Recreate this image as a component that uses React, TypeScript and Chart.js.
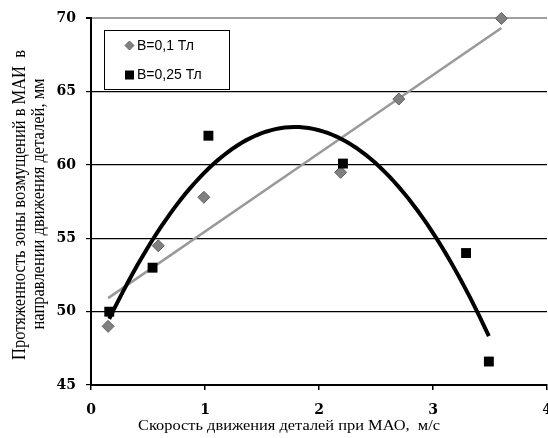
import React, { useEffect, useRef } from 'react';
import { Chart, registerables } from 'chart.js';

Chart.register(...registerables);

// ---- data ----
const xB01 = [0.15, 0.59, 0.99, 2.19, 2.7, 3.6];
const yB01 = [49, 54.5, 57.8, 59.5, 64.5, 70];
const xB025 = [0.16, 0.54, 1.03, 2.21, 3.29, 3.49];
const yB025 = [50, 53, 62, 60.1, 54, 46.6];
const seriesLabels = ['B=0,1 Тл', 'B=0,25 Тл'];
const xTitle = 'Скорость движения деталей при МАО,  м/с';
const yTitleLines = ['Протяженность зоны возмущений в МАИ  в', 'направлении движения деталей, мм'];
const xMin = 0, xMax = 4, xStep = 1;
const yMin = 45, yMax = 70, yStep = 5;

// least squares trendlines (Excel-style), computed from the data
function linearFit(xs: number[], ys: number[]) {
  const n = xs.length;
  const mx = xs.reduce((a, b) => a + b, 0) / n;
  const my = ys.reduce((a, b) => a + b, 0) / n;
  let sxy = 0, sxx = 0;
  for (let i = 0; i < n; i++) { sxy += (xs[i] - mx) * (ys[i] - my); sxx += (xs[i] - mx) ** 2; }
  const b = sxy / sxx;
  const a = my - b * mx;
  return (x: number) => a + b * x;
}
function quadFit(xs: number[], ys: number[]) {
  const s = [0, 0, 0, 0, 0];
  const t = [0, 0, 0];
  for (let i = 0; i < xs.length; i++) {
    for (let k = 0; k < 5; k++) s[k] += xs[i] ** k;
    for (let k = 0; k < 3; k++) t[k] += ys[i] * xs[i] ** k;
  }
  const M = [
    [s[0], s[1], s[2], t[0]],
    [s[1], s[2], s[3], t[1]],
    [s[2], s[3], s[4], t[2]],
  ];
  for (let c = 0; c < 3; c++) {
    for (let r = c + 1; r < 3; r++) {
      const f = M[r][c] / M[c][c];
      for (let k = c; k < 4; k++) M[r][k] -= f * M[c][k];
    }
  }
  const co = [0, 0, 0];
  for (let r = 2; r >= 0; r--) {
    let v = M[r][3];
    for (let k = r + 1; k < 3; k++) v -= M[r][k] * co[k];
    co[r] = v / M[r][r];
  }
  return (x: number) => co[0] + co[1] * x + co[2] * x * x;
}
function sample(f: (x: number) => number, x0: number, x1: number, n: number) {
  const pts: { x: number; y: number }[] = [];
  for (let i = 0; i <= n; i++) {
    const x = x0 + ((x1 - x0) * i) / n;
    pts.push({ x, y: f(x) });
  }
  return pts;
}

function drawFitText(ctx: CanvasRenderingContext2D, text: string, cx: number, cy: number, font: string, targetW: number, sy: number, rot: number) {
  ctx.save();
  ctx.font = font;
  const w = ctx.measureText(text).width;
  ctx.translate(cx, cy);
  ctx.rotate(rot);
  ctx.scale(targetW / w, sy);
  ctx.textAlign = 'center';
  ctx.textBaseline = 'middle';
  ctx.fillStyle = '#000';
  ctx.fillText(text, 0, 0);
  ctx.restore();
}

const overlayPlugin = {
  id: 'overlay',
  afterDraw(chart: any) {
    const ctx: CanvasRenderingContext2D = chart.ctx;
    // legend box
    ctx.save();
    ctx.fillStyle = '#fff';
    ctx.strokeStyle = '#000';
    ctx.lineWidth = 1;
    ctx.fillRect(104.5, 30.5, 125, 59);
    ctx.strokeRect(104.5, 30.5, 125, 59);
    // diamond
    ctx.beginPath();
    const dx = 129.5, dy = 45.5, r = 4.5;
    ctx.moveTo(dx - r, dy); ctx.lineTo(dx, dy - r); ctx.lineTo(dx + r, dy); ctx.lineTo(dx, dy + r); ctx.closePath();
    ctx.fillStyle = '#808080'; ctx.fill();
    ctx.strokeStyle = '#666'; ctx.stroke();
    // square
    ctx.fillStyle = '#000';
    ctx.fillRect(125, 70.5, 9, 9);
    ctx.font = '14px "Liberation Sans", Arial, sans-serif';
    ctx.textBaseline = 'middle';
    ctx.textAlign = 'left';
    ctx.fillText(seriesLabels[0], 137, 46.5);
    ctx.fillText(seriesLabels[1], 137, 75.5);
    ctx.restore();

    // axis titles
    drawFitText(ctx, xTitle, 289, 426, '15px "Liberation Serif", serif', 302, 1, 0);
    drawFitText(ctx, yTitleLines[0], 20, 205, '15px "Liberation Serif", serif', 310, 1.2, -Math.PI / 2);
    drawFitText(ctx, yTitleLines[1], 39, 204, '15px "Liberation Serif", serif', 251, 1.2, -Math.PI / 2);
  },
};

export default function App() {
  const ref = useRef<HTMLCanvasElement>(null);
  useEffect(() => {
    document.body.style.margin = '0';
    const lin = linearFit(xB01, yB01);
    const quad = quadFit(xB025, yB025);
    const linPts = sample(lin, Math.min(...xB01), Math.max(...xB01), 2);
    const quadPts = sample(quad, Math.min(...xB025), Math.max(...xB025), 80);
    const chart = new Chart(ref.current!, {
      type: 'scatter',
      data: {
        datasets: [
          {
            label: seriesLabels[0],
            data: xB01.map((x, i) => ({ x, y: yB01[i] })),
            pointStyle: 'rectRot',
            pointRadius: 6,
            backgroundColor: '#808080',
            borderColor: '#606060',
            borderWidth: 1,
            clip: false,
            order: 1,
          },
          {
            label: seriesLabels[1],
            data: xB025.map((x, i) => ({ x, y: yB025[i] })),
            pointStyle: 'rect',
            pointRadius: 7,
            backgroundColor: '#000',
            borderColor: '#000',
            borderWidth: 0,
            clip: false,
            order: 0,
          },
          {
            label: 'linear',
            data: linPts,
            showLine: true,
            borderColor: '#999999',
            borderWidth: 2.5,
            pointRadius: 0,
            order: 3,
          },
          {
            label: 'poly',
            data: quadPts,
            showLine: true,
            borderColor: '#000',
            borderWidth: 4,
            pointRadius: 0,
            tension: 0,
            order: 2,
          },
        ] as any,
      },
      options: {
        responsive: false,
        animation: false,
        layout: { autoPadding: false, padding: { top: 15, right: 1, left: 0, bottom: 0 } },
        plugins: { legend: { display: false }, tooltip: { enabled: false }, title: { display: false } },
        scales: {
          x: {
            type: 'linear',
            min: xMin,
            max: xMax,
            ticks: {
              stepSize: xStep,
              color: '#000',
              padding: 12,
              font: { family: '"DejaVu Serif", serif', weight: 'bold', size: 14 },
            },
            grid: { drawOnChartArea: false, drawTicks: true, tickLength: 5, color: '#000', lineWidth: 1.5 },
            border: { color: '#000', width: 2 },
            afterFit: (s: any) => { s.height = 53; s.paddingLeft = 0; s.paddingRight = 0; },
          },
          y: {
            type: 'linear',
            min: yMin,
            max: yMax,
            ticks: {
              stepSize: yStep,
              color: '#000',
              padding: 10,
              font: { family: '"DejaVu Serif", serif', weight: 'bold', size: 14 },
            },
            grid: {
              drawTicks: true,
              tickLength: 5,
              color: (c: any) => (c.tick && c.tick.value === yMax ? '#a0a0a0' : '#000'),
              tickColor: '#000',
              lineWidth: (c: any) => (c.tick && c.tick.value === yMax ? 2 : 1.2),
            },
            border: { color: '#000', width: 2 },
            afterFit: (s: any) => { s.width = 91; },
          },
        },
      } as any,
      plugins: [overlayPlugin],
    });
    return () => chart.destroy();
  }, []);
  return <canvas ref={ref} width={548} height={438} style={{ display: 'block' }} />;
}
